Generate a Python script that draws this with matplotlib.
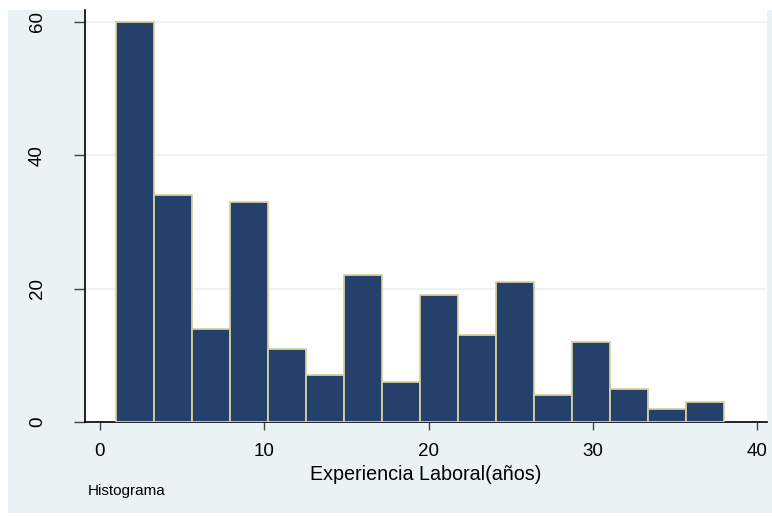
import numpy as np
import matplotlib.pyplot as plt
from matplotlib.patches import Rectangle

plt.rcParams['font.family'] = ['Liberation Sans', 'DejaVu Sans']

# histograma de experiencia laboral: 16 clases desde 1 hasta 38
bin_start = 1.0
bin_end = 38.0
counts = [60, 34, 14, 33, 11, 7, 22, 6, 19, 13, 21, 4, 12, 5, 2, 3]
x_ticks = [0, 10, 20, 30, 40]
y_ticks = [0, 20, 40, 60]

edges = np.linspace(bin_start, bin_end, len(counts) + 1)
W, H = 772, 516

fig = plt.figure(figsize=(W / 100, H / 100), dpi=100)
fig.patches.append(Rectangle((8 / W, 3 / H), 1 - 8 / W, (513 - 10) / H,
                             transform=fig.transFigure, facecolor='#EAF2F3',
                             edgecolor='none', zorder=-10))

ax = fig.add_axes([85 / W, (H - 422) / H, (767 - 85) / W, (422 - 10) / H])
ax.set_facecolor('white')

ax.bar(edges[:-1], counts, width=np.diff(edges), align='edge',
       color='#26406C', edgecolor='#D6D0A0', linewidth=1.3, zorder=3)

ax.set_xlim(-0.91, 40.6)
ax.set_ylim(0, 61.8)
ax.set_xticks(x_ticks)
ax.set_yticks(y_ticks)
ax.set_yticklabels([str(v) for v in y_ticks], rotation=90, va='center')
ax.tick_params(axis='both', labelsize=13.5, width=1, direction='out',
               color='#444444')
ax.tick_params(axis='x', length=6, pad=9)
ax.tick_params(axis='y', length=8, pad=20)
ax.grid(axis='y', color='#EAF2F3', linewidth=1.3, zorder=1)
ax.grid(axis='x', visible=False)

for s in ['top', 'right']:
    ax.spines[s].set_visible(False)
ax.spines['left'].set_linewidth(1.2)
ax.spines['bottom'].set_linewidth(1.2)

ax.set_xlabel('Experiencia Laboral(años)', fontsize=14.2, va='center')
ax.xaxis.set_label_coords(0.5, -(475 - 422) / 412)
fig.text(88 / W, 1 - 491 / H, 'Histograma', fontsize=11, va='center', ha='left')

fig.savefig('out.png', dpi=100)
